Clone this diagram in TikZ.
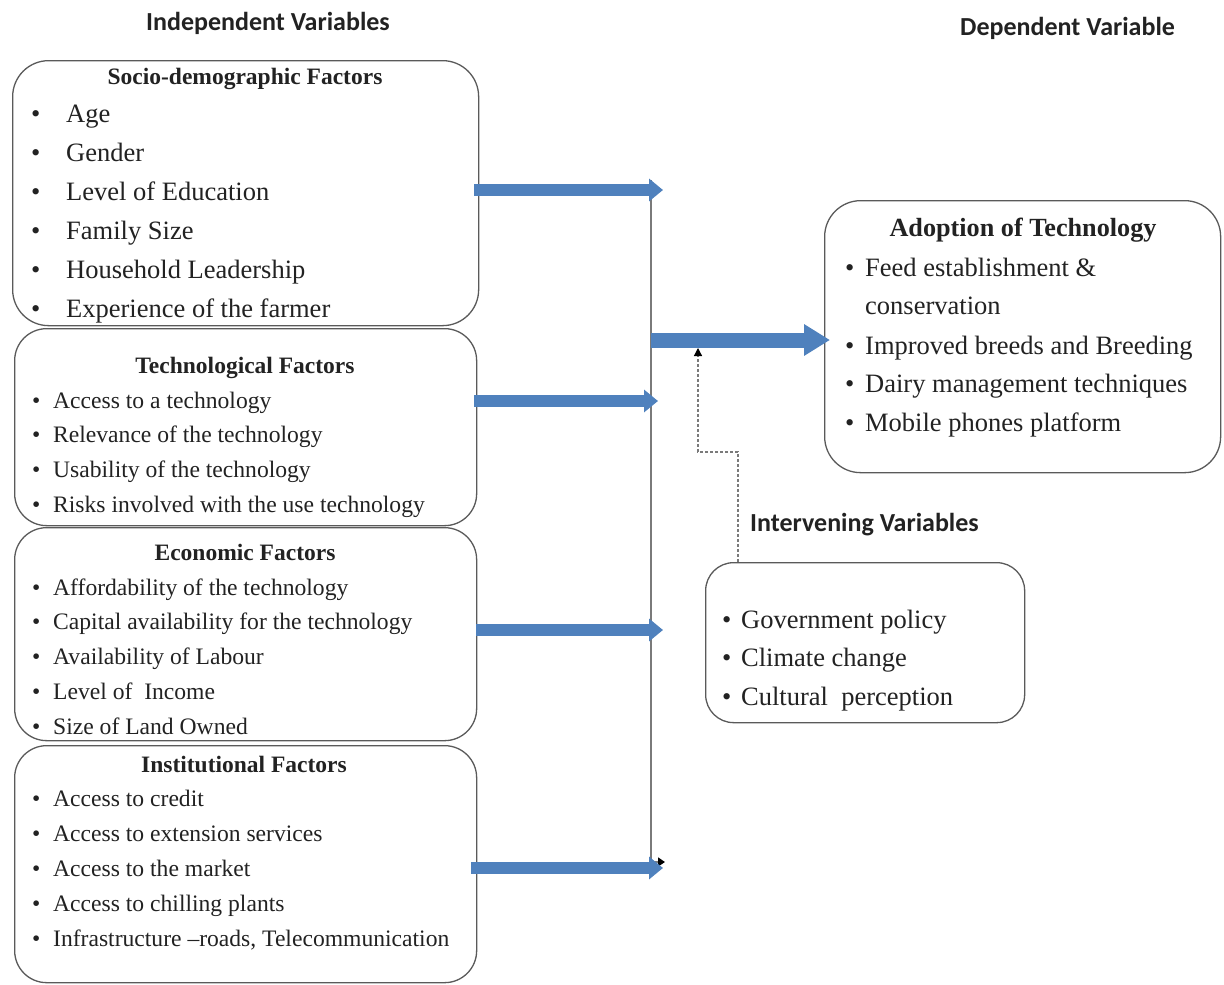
\documentclass[tikz,border=0pt]{standalone}
\usepackage{fontspec}
\setmainfont{Liberation Serif}
\newfontfamily\headfont{Carlito}
\usetikzlibrary{arrows.meta}
\definecolor{arrowblue}{HTML}{4F81BD}
\definecolor{boxgray}{HTML}{5A5A5A}
\definecolor{txt}{HTML}{222222}
\definecolor{linegray}{HTML}{7A7A7A}
\begin{document}
\begin{tikzpicture}[x=1pt,y=-1pt,
  box/.style={draw=boxgray, line width=1.3pt, rounded corners=32pt, inner sep=0pt, anchor=north west, fill=white},
  bigitem/.style={font=\fontsize{26.5}{30}\selectfont, anchor=base west, inner sep=0pt, text=txt},
  smallitem/.style={font=\fontsize{23.6}{28}\selectfont, anchor=base west, inner sep=0pt, text=txt},
  boxtitle/.style={font=\bfseries\fontsize{23.5}{28}\selectfont, anchor=base, inner sep=0pt, text=txt},
  bigtitle/.style={font=\bfseries\fontsize{26.2}{30}\selectfont, anchor=base, inner sep=0pt, text=txt},
  heading/.style={font=\headfont\bfseries\fontsize{26}{30}\selectfont, anchor=base west, inner sep=0pt, text=txt},
  bluearrow/.style={draw=arrowblue, line width=12pt, -{Triangle[length=14pt,width=22pt]}},
  mainarrow/.style={draw=arrowblue, line width=15pt, -{Triangle[length=26pt,width=30pt]}},
  thinline/.style={draw=linegray, line width=1.5pt, -{Triangle[length=7pt,width=9pt,color=black]}},
  dotarrow/.style={draw=linegray, line width=1.2pt, dash pattern=on 3pt off 2pt, -{Triangle[length=8pt,width=8pt,color=black]}}
]
\useasboundingbox (0,0) rectangle (1224,985);

% headings
\node[heading] (hind) at (146,30) {Independent Variables};
\node[heading] (hdep) at (960,35) {Dependent Variable};
\node[heading] (hint) at (750,531) {Intervening Variables};

% boxes
\node[box, minimum width=466pt, minimum height=265pt, rounded corners=36pt] (socio) at (12,60) {};
\node[box, minimum width=462pt, minimum height=197pt] (tech) at (14,328) {};
\node[box, minimum width=462pt, minimum height=213pt] (econ) at (14,527) {};
\node[box, minimum width=462pt, minimum height=237pt] (inst) at (14,745) {};
\node[box, minimum width=396pt, minimum height=272pt, rounded corners=36pt] (adopt) at (824,200) {};
\node[box, minimum width=319pt, minimum height=160pt, rounded corners=28pt] (interv) at (705,562) {};

% socio-demographic
\node[boxtitle] (st) at (245,84) {Socio-demographic Factors};
\foreach \t [count=\i] in {Age, Gender, Level of Education, Family Size, Household Leadership, Experience of the farmer}
  \node[bigitem] (s\i) at (31,{122+39*(\i-1)}) {\makebox[35pt][l]{\textbullet}\t};

% technological
\node[boxtitle] (tt) at (245,373) {Technological Factors};
\foreach \t [count=\i] in {Access to a technology, Relevance of the technology, Usability of the technology, Risks involved with the use technology}
  \node[smallitem] (t\i) at (32,{408+34.7*(\i-1)}) {\makebox[21pt][l]{\textbullet}\t};

% economic
\node[boxtitle] (et) at (245,560) {Economic Factors};
\foreach \t [count=\i] in {Affordability of the technology, Capital availability for the technology, Availability of Labour, Level of~ Income, Size of Land Owned}
  \node[smallitem] (e\i) at (32,{595+34.8*(\i-1)}) {\makebox[21pt][l]{\textbullet}\t};

% institutional
\node[boxtitle] (it) at (244,772) {Institutional Factors};
\foreach \t [count=\i] in {Access to credit, Access to extension services, Access to the market, Access to chilling plants, {Infrastructure –roads, Telecommunication}}
  \node[smallitem] (i\i) at (32,{806+35*(\i-1)}) {\makebox[21pt][l]{\textbullet}\t};

% adoption
\node[bigtitle] (at) at (1023,236) {Adoption of Technology};
\node[bigitem] (a1) at (845,276) {\makebox[20pt][l]{\textbullet}Feed establishment \&};
\node[bigitem] (a1b) at (865,314) {conservation};
\foreach \t [count=\i from 2] in {Improved breeds and Breeding, Dairy management techniques, Mobile phones platform}
  \node[bigitem] (a\i) at (845,{354+38.5*(\i-2)}) {\makebox[20pt][l]{\textbullet}\t};

% intervening
\foreach \t [count=\i] in {Government policy, Climate change, Cultural~ perception}
  \node[bigitem] (v\i) at (722,{628+38.5*(\i-1)}) {\makebox[19pt][l]{\textbullet}\t};

% connector coordinates
\coordinate (vtop) at (651,180);
\coordinate (vbot) at (651,862);
\coordinate (vend) at (665,862);
\coordinate (r1) at (663,190);
\coordinate (r2) at (658,401);
\coordinate (r3) at (663,630);
\coordinate (r4) at (663,868);
\coordinate (mstart) at (651,340);
\coordinate (d1) at (738,452);
\coordinate (d2) at (698,452);
\coordinate (d3) at (698,348);

% thin collecting line
\draw[thinline] (vtop) -- (vbot) -- (vend);

% blue arrows
\draw[bluearrow] ([xshift=-5pt]socio.east |- r1) -- (r1);
\draw[bluearrow] ([xshift=-3pt]tech.east |- r2) -- (r2);
\draw[bluearrow] ([xshift=-1pt]econ.east |- r3) -- (r3);
\draw[bluearrow] ([xshift=-6pt]inst.east |- r4) -- (r4);
\draw[mainarrow] (mstart) -- ([xshift=6pt]adopt.west |- mstart);

% dotted intervening link
\draw[dotarrow] (interv.north -| d1) -- (d1) -- (d2) -- (d3);
\end{tikzpicture}
\end{document}
